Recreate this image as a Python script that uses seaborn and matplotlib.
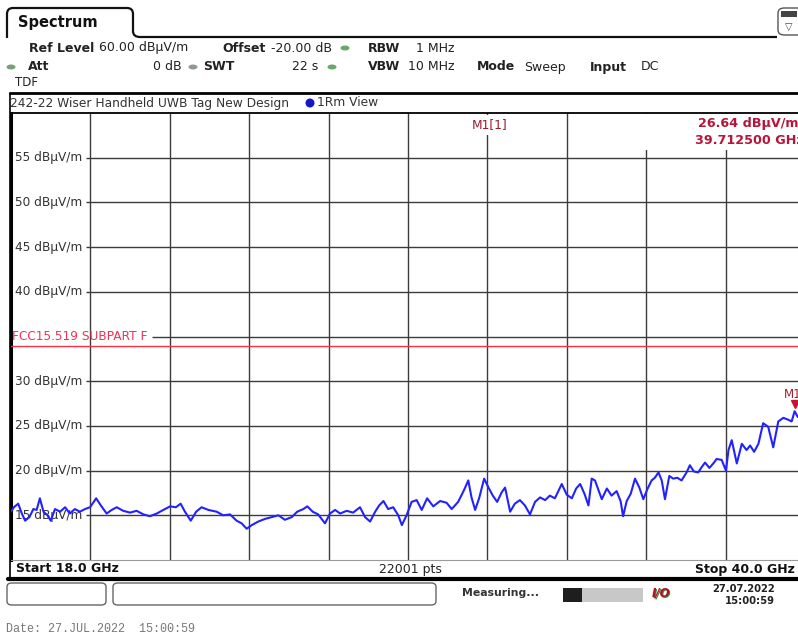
import matplotlib
matplotlib.use("Agg")
import matplotlib.pyplot as plt
from matplotlib.lines import Line2D
from matplotlib.patches import FancyBboxPatch, Ellipse, Rectangle, PathPatch
from matplotlib.path import Path
import pandas as pd
import seaborn as sns

# ---- measured trace (1Rm View) ----
freq_ghz = [
    18.00, 18.08, 18.20, 18.30, 18.39, 18.51, 18.62, 18.71, 18.80, 18.90,
    19.01, 19.10, 19.22, 19.36, 19.50, 19.63, 19.77, 19.91, 20.05, 20.19,
    20.36, 20.49, 20.65, 20.79, 20.93, 21.11, 21.30, 21.48, 21.67, 21.85,
    22.04, 22.22, 22.41, 22.57, 22.70, 22.82, 22.98, 23.13, 23.28, 23.47,
    23.70, 23.88, 24.07, 24.25, 24.39, 24.53, 24.67, 24.85, 25.04, 25.22,
    25.41, 25.59, 25.78, 25.93, 26.10, 26.21, 26.36, 26.51, 26.70, 26.84,
    26.98, 27.12, 27.30, 27.48, 27.67, 27.81, 27.95, 28.09, 28.20, 28.32,
    28.45, 28.59, 28.73, 28.83, 28.96, 29.10, 29.24, 29.38, 29.53, 29.70,
    29.89, 30.07, 30.21, 30.39, 30.55, 30.67, 30.76, 30.86, 30.97, 31.11,
    31.23, 31.35, 31.47, 31.60, 31.69, 31.83, 31.96, 32.10, 32.24, 32.38,
    32.52, 32.66, 32.80, 32.93, 33.07, 33.26, 33.40, 33.54, 33.66, 33.77,
    33.89, 34.00, 34.09, 34.18, 34.27, 34.37, 34.51, 34.64, 34.78, 34.89,
    34.96, 35.06, 35.17, 35.29, 35.41, 35.52, 35.63, 35.75, 35.84, 35.94,
    36.03, 36.12, 36.24, 36.35, 36.46, 36.58, 36.72, 36.81, 36.92, 37.04,
    37.14, 37.23, 37.35, 37.46, 37.55, 37.69, 37.81, 37.88, 37.97, 38.11,
    38.25, 38.38, 38.48, 38.59, 38.71, 38.84, 38.98, 39.12, 39.26, 39.40,
    39.53, 39.63, 39.7125, 39.80, 39.90, 40.00,
]
level_dbuv = [
    15.4, 15.9, 16.3, 15.2, 14.4, 14.8, 15.7, 15.6, 16.9, 15.4,
    15.0, 14.4, 15.7, 15.4, 15.9, 15.2, 15.7, 15.4, 15.7, 15.9,
    16.9, 16.1, 15.2, 15.6, 15.9, 15.5, 15.3, 15.5, 15.1, 14.9,
    15.2, 15.6, 16.0, 15.9, 16.3, 15.4, 14.4, 15.4, 15.9, 15.6,
    15.4, 15.0, 15.1, 14.4, 14.1, 13.5, 13.9, 14.3, 14.6, 14.8,
    15.0, 14.5, 14.8, 15.4, 15.7, 16.0, 15.4, 15.1, 14.1, 15.2,
    15.6, 15.2, 15.5, 15.3, 15.9, 14.8, 14.3, 15.4, 16.1, 16.6,
    15.7, 15.9, 15.0, 13.9, 15.0, 16.5, 16.7, 15.6, 16.9, 16.0,
    16.6, 16.4, 15.7, 16.5, 17.8, 18.9, 17.0, 15.6, 16.9, 19.1,
    18.1, 17.2, 16.5, 17.6, 18.1, 15.4, 16.3, 16.7, 16.1, 15.1,
    16.5, 17.0, 16.7, 17.2, 16.9, 18.5, 17.3, 16.9, 18.0, 18.5,
    17.4, 16.1, 19.1, 18.9, 17.9, 16.8, 18.0, 17.2, 17.7, 16.6,
    14.9, 16.6, 17.4, 19.1, 18.1, 16.8, 17.9, 18.9, 19.2, 19.8,
    18.9, 16.8, 19.4, 19.1, 19.2, 18.9, 19.8, 20.6, 19.9, 19.8,
    20.4, 20.9, 20.3, 20.8, 21.3, 21.2, 20.0, 22.3, 23.4, 20.8,
    23.0, 22.3, 22.8, 22.1, 23.0, 25.3, 24.9, 22.6, 25.5, 25.9,
    25.7, 25.5, 26.64, 26.0, 26.2, 25.9,
]

start_ghz, stop_ghz = 18.0, 40.0
ref_level, bottom_level = 60.0, 10.0
grid_levels = [15, 20, 25, 30, 40, 45, 50, 55]
limit_level = 33.9
limit_label = "FCC15.519 SUBPART F"
marker_name = "M1"
marker_freq = 39.7125
marker_level = 26.64
sweep_points = 22001

trace = pd.DataFrame({"Frequency (GHz)": freq_ghz, "Level (dBµV/m)": level_dbuv})

sns.set_style("white")
plt.rcParams["font.family"] = ["DejaVu Sans"]

W, H = 798, 637
fig = plt.figure(figsize=(W / 100, H / 100), dpi=100)
fig.patch.set_facecolor("white")


def fx(x):
    return x / W


def fy(y):
    return 1 - y / H


def fline(x0, y0, x1, y1, color="black", lw=1.0, **kw):
    fig.add_artist(Line2D([fx(x0), fx(x1)], [fy(y0), fy(y1)],
                          transform=fig.transFigure, color=color, lw=lw, **kw))


def ftext(x, y, s, size=9, weight="normal", ha="left", color="#222222", **kw):
    fig.text(fx(x), fy(y), s, fontsize=size, fontweight=weight, ha=ha,
             va="center", color=color, **kw)


def fdot(x, y, color, w=9, h=5):
    fig.add_artist(Ellipse((fx(x), fy(y)), w / W, h / H, transform=fig.transFigure,
                           facecolor=color, edgecolor="none"))


# ---- diagram area ----
ax = fig.add_axes([fx(11), fy(560), 794 / W, 447 / H])
ax.set_xlim(start_ghz, stop_ghz)
ax.set_ylim(bottom_level, ref_level)
div = (stop_ghz - start_ghz) / 10
ax.set_xticks([start_ghz + div * k for k in range(1, 10)])
ax.set_yticks([])
ax.tick_params(length=0, labelbottom=False, labelleft=False)
ax.grid(axis="x", color="#3c3c3c", lw=1.0)
ax.grid(axis="y", visible=False)
for side in ("right", "bottom"):
    ax.spines[side].set_visible(False)
ax.spines["left"].set_linewidth(2.2)
ax.spines["left"].set_color("black")
ax.spines["top"].set_linewidth(1.3)
ax.spines["top"].set_color("black")

label_end = start_ghz + 75 / 794 * (stop_ghz - start_ghz)
for lvl in grid_levels:
    ax.hlines(lvl, label_end, stop_ghz, color="#3c3c3c", lw=1.0, zorder=1)
    ax.text(0.005, lvl, f"{lvl} dBµV/m", transform=ax.get_yaxis_transform(),
            fontsize=8.7, va="center", ha="left", color="#333333", zorder=2)

# limit line with its label sitting on the 35 dB division
ax.hlines(35, start_ghz + 141 / 794 * (stop_ghz - start_ghz), stop_ghz,
          color="#3c3c3c", lw=1.0, zorder=1)
ax.text(0.001, 35, limit_label, transform=ax.get_yaxis_transform(),
        fontsize=8.7, va="center", ha="left", color="#ee3355", zorder=2)
ax.axhline(limit_level, color="#ff3040", lw=1.0, zorder=3)

sns.lineplot(data=trace, x="Frequency (GHz)", y="Level (dBµV/m)", ax=ax,
             color="#2222ff", lw=1.5, estimator=None, sort=False, zorder=4)
ax.set_xlabel("")
ax.set_ylabel("")

# marker M1
ax.plot([marker_freq], [marker_level + 0.8], marker="v", ms=6, color="#cc1030",
        zorder=5, clip_on=False)
ax.annotate(marker_name, (marker_freq, marker_level), xytext=(-7.5, 12),
            textcoords="offset points", fontsize=8.5, color="#a02030", va="center",
            zorder=5)

# marker readout
fig.add_artist(Rectangle((fx(600), fy(150)), 205 / W, 36 / H, transform=fig.transFigure,
                         facecolor="white", edgecolor="none", zorder=3))
fig.text(fx(472), fy(125), f"{marker_name}[1]", fontsize=8.8, color="#a01830",
         va="center", ha="left", zorder=4,
         bbox=dict(facecolor="white", edgecolor="none", pad=2.5))
ftext(698, 124, f"{marker_level:.2f} dBµV/m", size=9.2, weight="bold",
      color="#b5153a", zorder=4)
ftext(695, 141, f"{marker_freq:.6f} GHz", size=9.2, weight="bold",
      color="#b5153a", zorder=4)

# ---- header ----
tab = Path([(fx(7), fy(38)), (fx(7), fy(14)), (fx(7), fy(8)), (fx(13), fy(8)),
            (fx(127), fy(8)), (fx(133), fy(8)), (fx(133), fy(14)),
            (fx(133), fy(31)), (fx(133), fy(37)), (fx(140), fy(37)),
            (fx(777), fy(37))],
           [Path.MOVETO, Path.LINETO, Path.CURVE3, Path.CURVE3,
            Path.LINETO, Path.CURVE3, Path.CURVE3,
            Path.LINETO, Path.CURVE3, Path.CURVE3, Path.LINETO])
fig.add_artist(PathPatch(tab, transform=fig.transFigure, facecolor="none",
                         edgecolor="#111111", lw=1.6))
ftext(18, 23, "Spectrum", size=10.5, weight="bold", color="#111111")

fig.add_artist(FancyBboxPatch((fx(778), fy(35)), 30 / W, 27 / H,
                              boxstyle="round,pad=0,rounding_size=0.008",
                              transform=fig.transFigure, facecolor="white",
                              edgecolor="#555555", lw=1.0))
fig.add_artist(Rectangle((fx(781), fy(17)), 16 / W, 6 / H, transform=fig.transFigure,
                         facecolor="#444444", edgecolor="none"))
ftext(789, 27, "▽", size=7, ha="center", color="#444444")

ftext(29, 48, "Ref Level", weight="bold")
ftext(99, 48, "60.00 dBµV/m")
ftext(222, 48, "Offset", weight="bold")
ftext(332, 48, "-20.00 dB", ha="right")
fdot(345, 48, "#6aa86a")
ftext(400, 48, "RBW", weight="bold", ha="right")
ftext(455, 48, "1 MHz", ha="right")

fdot(11, 67, "#7aa07a")
ftext(28, 67, "Att", weight="bold")
ftext(182, 67, "0 dB", ha="right")
fdot(193, 67, "#909a90")
ftext(203, 67, "SWT", weight="bold")
ftext(318, 67, "22 s", ha="right")
fdot(332, 67, "#6aa86a")
ftext(400, 67, "VBW", weight="bold", ha="right")
ftext(455, 67, "10 MHz", ha="right")
ftext(477, 67, "Mode", weight="bold")
ftext(524, 67, "Sweep")
ftext(590, 67, "Input", weight="bold")
ftext(641, 67, "DC")
ftext(15, 83, "TDF", size=8.5)

# title strip
fline(10, 93, 800, 93, lw=2.0)
fline(9.5, 93, 9.5, 580, lw=1.2)
ftext(10, 103, "242-22 Wiser Handheld UWB Tag New Design", size=8.8, color="#333333")
fdot(310, 103, "#1515cc", w=9, h=9)
ftext(317, 103, "1Rm View", size=8.8, color="#333333")

# ---- footer strip ----
fline(11, 560, 800, 560, color="#9a9a9a", lw=0.8)
ftext(16, 569, f"Start {start_ghz:.1f} GHz", weight="bold", color="#111111")
ftext(442, 569, f"{sweep_points} pts", ha="right", color="#222222")
ftext(795, 569, f"Stop {stop_ghz:.1f} GHz", weight="bold", ha="right", color="#111111")
fline(8, 579, 800, 579, lw=3.0)

# ---- status bar ----
for x0, x1 in ((7, 106), (113, 436)):
    fig.add_artist(FancyBboxPatch((fx(x0), fy(605)), (x1 - x0) / W, 22 / H,
                                  boxstyle="round,pad=0,rounding_size=0.006",
                                  transform=fig.transFigure, facecolor="white",
                                  edgecolor="#666666", lw=1.0))
ftext(462, 593, "Measuring...", size=7.8, weight="bold", color="#333333")
fig.add_artist(Rectangle((fx(563), fy(602)), 80 / W, 14 / H, transform=fig.transFigure,
                         facecolor="#c8c8c8", edgecolor="none"))
fig.add_artist(Rectangle((fx(563), fy(602)), 19 / W, 14 / H, transform=fig.transFigure,
                         facecolor="#1e1e1e", edgecolor="none"))
ftext(653, 594, "I/O", size=8.5, weight="bold", style="italic", color="#3a8a3a")
ftext(652, 593, "I/O", size=8.5, weight="bold", style="italic", color="#b01020")
ftext(775, 589, "27.07.2022", size=7.2, weight="bold", ha="right", color="#222222")
ftext(775, 601, "15:00:59", size=7.2, weight="bold", ha="right", color="#222222")

ftext(6, 629, "Date: 27.JUL.2022  15:00:59", size=8.5, color="#777777",
      family=["Liberation Mono", "DejaVu Sans Mono"])

fig.savefig("out.png", dpi=100)
